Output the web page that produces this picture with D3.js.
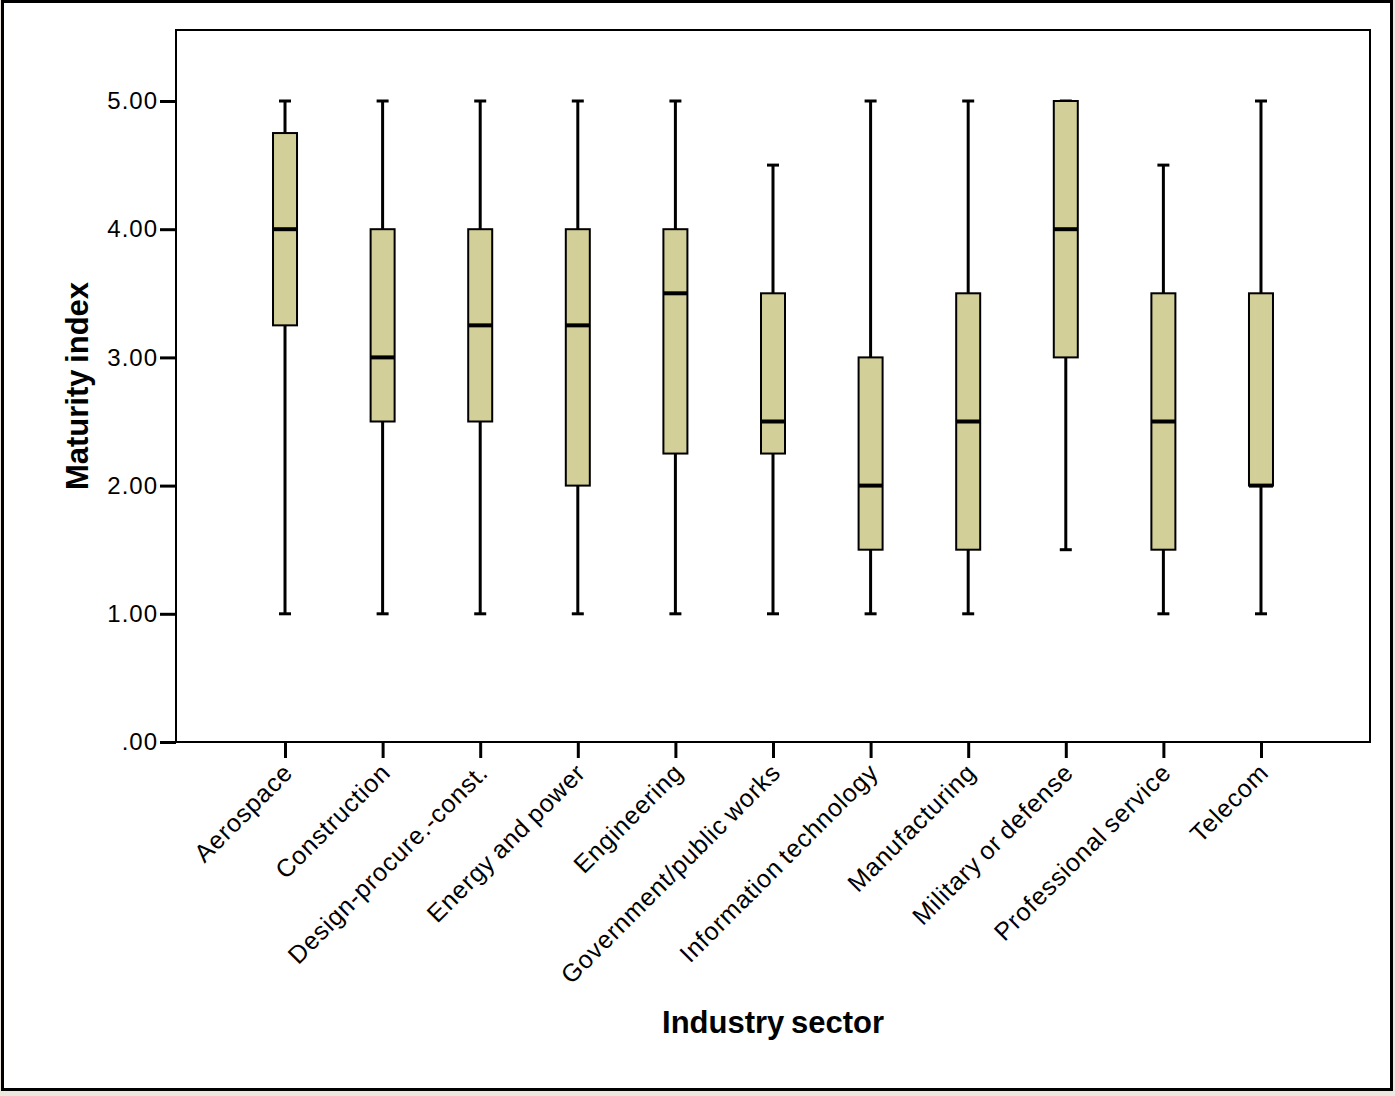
<!DOCTYPE html>
<html>
<head>
<meta charset="utf-8">
<script src="https://cdn.jsdelivr.net/npm/d3@7"></script>
<style>
  html, body { margin: 0; padding: 0; background: #ece8e0; }
  svg { display: block; }
  text { font-family: "Liberation Sans", Arial, sans-serif; fill: #000; }
</style>
</head>
<body>
<svg id="chart" width="1395" height="1096"></svg>
<script>
// Industry sectors along the x axis
const sectors = ["Aerospace", "Construction", "Design-procure.-const.", "Energy and power",
  "Engineering", "Government/public works", "Information technology", "Manufacturing",
  "Military or defense", "Professional service", "Telecom"];

// Five-number summaries of the maturity index per sector
const whiskerLow  = [1.0, 1.0, 1.0, 1.0, 1.0, 1.0, 1.0, 1.0, 1.5, 1.0, 1.0];
const quartile1   = [3.25, 2.5, 2.5, 2.0, 2.25, 2.25, 1.5, 1.5, 3.0, 1.5, 2.0];
const medians     = [4.0, 3.0, 3.25, 3.25, 3.5, 2.5, 2.0, 2.5, 4.0, 2.5, 2.0];
const quartile3   = [4.75, 4.0, 4.0, 4.0, 4.0, 3.5, 3.0, 3.5, 5.0, 3.5, 3.5];
const whiskerHigh = [5.0, 5.0, 5.0, 5.0, 5.0, 4.5, 5.0, 5.0, 5.0, 4.5, 5.0];

const yTicks = [0, 1, 2, 3, 4, 5];

const svg = d3.select("#chart");

// outer white panel with frame
svg.append("rect").attr("x", 2.5).attr("y", 1.5).attr("width", 1389).attr("height", 1088)
  .attr("fill", "#fff").attr("stroke", "#000").attr("stroke-width", 3);

const plot = { left: 176, top: 30, right: 1370, bottom: 742 };

const x = d3.scalePoint().domain(sectors)
  .range([plot.left, plot.right]).padding(1.117);
const y = d3.scaleLinear().domain([0, 5]).range([plot.bottom, 101]);

// plot frame
svg.append("rect").attr("x", plot.left).attr("y", plot.top)
  .attr("width", plot.right - plot.left).attr("height", plot.bottom - plot.top)
  .attr("fill", "#fff").attr("stroke", "#000").attr("stroke-width", 2);

// y axis
const yAxis = svg.append("g").attr("transform", `translate(${plot.left},0)`)
  .call(d3.axisLeft(y).tickValues(yTicks).tickSize(16).tickPadding(2)
    .tickFormat(d => d === 0 ? ".00" : d3.format(".2f")(d)));
yAxis.select(".domain").remove();
yAxis.selectAll(".tick line").attr("stroke", "#000").attr("stroke-width", 3);
yAxis.selectAll(".tick text")
  .attr("font-size", 24).attr("letter-spacing", 1)
  .attr("font-family", "Liberation Sans, Arial, sans-serif");

// x axis
const xAxis = svg.append("g").attr("transform", `translate(0,${plot.bottom})`)
  .call(d3.axisBottom(x).tickSize(16).tickFormat(""));
xAxis.select(".domain").remove();
xAxis.selectAll(".tick line").attr("stroke", "#000").attr("stroke-width", 3);

// rotated category labels
svg.append("g").selectAll("text").data(sectors).join("text")
  .attr("transform", d => `translate(${x(d) + 3},${plot.bottom + 26}) rotate(-45)`)
  .attr("text-anchor", "end")
  .attr("dy", "0.35em")
  .attr("font-size", 25)
  .attr("letter-spacing", 0.8)
  .attr("word-spacing", -2)
  .text(d => d);

// box plots
const boxW = 24, capW = 12;
const boxes = svg.append("g").selectAll("g").data(sectors).join("g")
  .attr("transform", d => `translate(${x(d)},0)`);

boxes.append("line")
  .attr("y1", (d, i) => y(whiskerLow[i])).attr("y2", (d, i) => y(whiskerHigh[i]))
  .attr("stroke", "#000").attr("stroke-width", 3);
boxes.append("line")
  .attr("x1", -capW / 2).attr("x2", capW / 2)
  .attr("y1", (d, i) => y(whiskerLow[i])).attr("y2", (d, i) => y(whiskerLow[i]))
  .attr("stroke", "#000").attr("stroke-width", 3);
boxes.append("line")
  .attr("x1", -capW / 2).attr("x2", capW / 2)
  .attr("y1", (d, i) => y(whiskerHigh[i])).attr("y2", (d, i) => y(whiskerHigh[i]))
  .attr("stroke", "#000").attr("stroke-width", 3);
boxes.append("rect")
  .attr("x", -boxW / 2).attr("width", boxW)
  .attr("y", (d, i) => y(quartile3[i]))
  .attr("height", (d, i) => y(quartile1[i]) - y(quartile3[i]))
  .attr("fill", "#d3cf98").attr("stroke", "#000").attr("stroke-width", 2);
boxes.append("line")
  .attr("x1", -boxW / 2).attr("x2", boxW / 2)
  .attr("y1", (d, i) => y(medians[i])).attr("y2", (d, i) => y(medians[i]))
  .attr("stroke", "#000").attr("stroke-width", 4);

// axis titles
svg.append("text")
  .attr("transform", `translate(88,386) rotate(-90)`)
  .attr("text-anchor", "middle")
  .attr("font-size", 31).attr("font-weight", "bold")
  .attr("word-spacing", -2)
  .text("Maturity index");
svg.append("text")
  .attr("x", 773).attr("y", 1033)
  .attr("text-anchor", "middle")
  .attr("font-size", 31).attr("font-weight", "bold")
  .attr("word-spacing", -2)
  .text("Industry sector");
</script>
</body>
</html>
